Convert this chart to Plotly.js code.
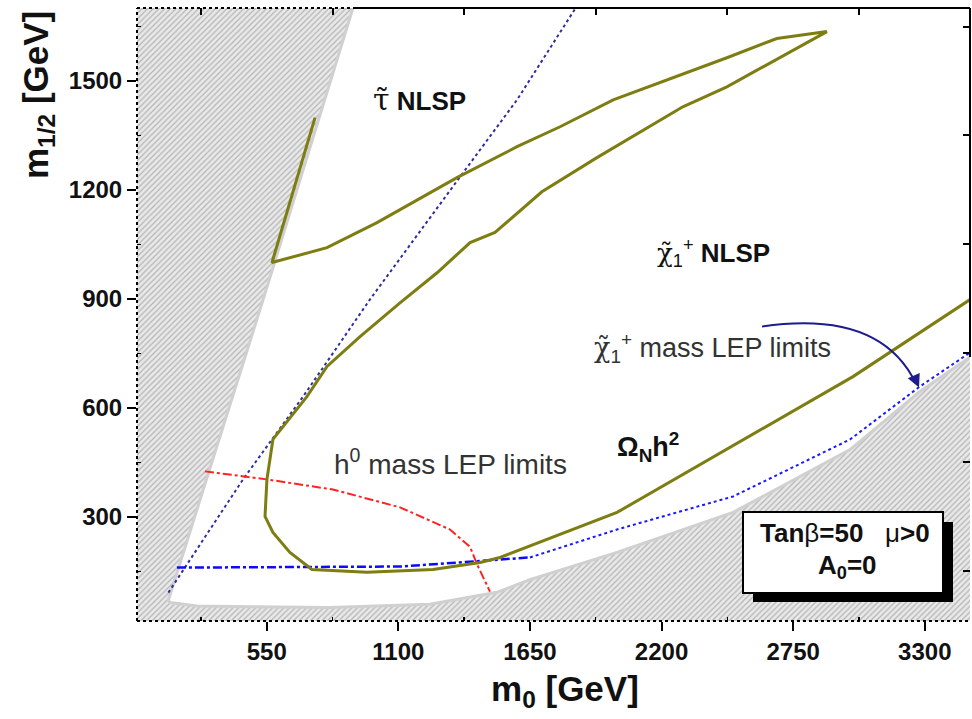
<!DOCTYPE html>
<html><head><meta charset="utf-8">
<script src="https://cdn.plot.ly/plotly-3.0.1.min.js"></script>
<style>html,body{margin:0;padding:0;background:#fff}#chart{width:972px;height:719px}</style>
</head><body><div id="chart"></div>
<script>
// Excluded (hatched) region boundary: m0, m1/2
const exclX = [-100, 960, 911, 535, 139, 146, 259, 814, 1232, 1512, 1650, 2014, 2499, 2988, 3280, 3489, 3600, 3600, -100];
const exclY = [1800, 1800, 1702, 898, 70, 64, 54, 50, 59, 92, 127, 202, 312, 485, 645, 739, 790, -50, -50];

// Omega_N h^2 contour
const omegaX = [752, 572, 802, 1011, 1345, 1596, 1776, 1998, 2473, 2682, 2891, 2473, 2289, 1930, 1700, 1504, 1400, 1262, 1107, 940, 802, 718, 576, 551, 543, 576, 647, 739, 969, 1245, 1442, 1525, 2014, 3000, 3489];
const omegaY = [1399, 1000, 1041, 1110, 1234, 1319, 1374, 1448, 1564, 1617, 1636, 1484, 1429, 1289, 1195, 1083, 1055, 972, 889, 796, 714, 631, 513, 403, 301, 257, 202, 155, 147, 155, 174, 188, 312, 686, 898];

// h0 mass LEP limit
const higgsX = [292, 550, 827, 1107, 1316, 1400, 1429, 1483];
const higgsY = [425, 403, 375, 326, 265, 217, 169, 94];

// chargino mass LEP limit
const charX = [175, 1107, 1650, 2014, 2499, 2988, 3280, 3489];
const charY = [160, 163, 188, 265, 356, 513, 659, 752];

// stau / chargino NLSP boundary
const nlspX = [139, 451, 702, 981, 1358, 1596, 1842];
const nlspY = [91, 403, 631, 898, 1236, 1448, 1702];

const xTicks = [550, 1100, 1650, 2200, 2750, 3300];
const yTicks = [300, 600, 900, 1200, 1500];
const xTopTicks = [275, 825, 1375, 1925, 2475, 3025];
const yRightTicks = [150, 450, 750, 1050, 1350, 1650];

const FONT = 'Liberation Sans, Arial, sans-serif';
const xRange = [8, 3489], yRange = [13, 1701];

const traces = [
  {x: exclX, y: exclY, type: 'scatter', mode: 'lines', fill: 'toself',
   fillcolor: '#e2e2e2',
   fillpattern: {shape: '/', bgcolor: '#e9e9e9', fgcolor: '#b4b4b4', size: 4, solidity: 0.3},
   line: {color: '#d0d0d0', width: 3}, hoverinfo: 'skip'},
  {x: nlspX, y: nlspY, type: 'scatter', mode: 'lines', line: {color: '#2e2ea0', width: 2, dash: 'dot'}},
  {x: higgsX, y: higgsY, type: 'scatter', mode: 'lines', line: {color: '#ff2222', width: 2, dash: 'dashdot'}},
  {x: charX.slice(0, 3), y: charY.slice(0, 3), type: 'scatter', mode: 'lines', line: {color: '#0a0aff', width: 2.5, dash: 'dashdot'}},
  {x: charX.slice(2), y: charY.slice(2), type: 'scatter', mode: 'lines', line: {color: '#1a1aff', width: 2, dash: 'dot'}},
  {x: omegaX, y: omegaY, type: 'scatter', mode: 'lines', line: {color: '#7d7d12', width: 3}},
  {x: [], y: [], xaxis: 'x2', yaxis: 'y', type: 'scatter'},
  {x: [], y: [], xaxis: 'x', yaxis: 'y2', type: 'scatter'}
];

const px2x = p => (p - 137) / 833;
const py2y = p => (621 - p) / 613;

const ann = [];
function lab(x, y, text, size, color, extra) {
  ann.push(Object.assign({x: x, y: y, xref: 'x', yref: 'y', text: text, showarrow: false,
    font: {family: FONT, size: size, color: color}, xanchor: 'center', yanchor: 'middle'}, extra || {}));
}
lab(1187, 1449, '<span style="font-family:DejaVu Serif;font-size:30px">τ̃</span> <b>NLSP</b>', 26, '#111');
lab(2419, 1027, '<span style="font-family:DejaVu Serif">χ̃</span><sub>1</sub><sup>+</sup> <b>NLSP</b>', 26, '#111');
lab(2411, 765, '<span style="font-family:DejaVu Serif">χ̃</span><sub>1</sub><sup>+</sup> mass LEP limits', 27, '#333');
lab(1316, 452, 'h<sup>0</sup> mass LEP limits', 28, '#333');
lab(2142, 493, '<b>Ω<sub>N</sub>h<sup>2</sup></b>', 27, '#111');

// box text
ann.push({xref: 'paper', yref: 'paper', x: px2x(845), y: py2y(533), text: '<b>Tan</b>β<b>=50</b>\u00a0\u00a0\u00a0μ<b>&gt;0</b>', showarrow: false,
  font: {family: FONT, size: 26, color: '#111'}, xanchor: 'center', yanchor: 'middle'});
ann.push({xref: 'paper', yref: 'paper', x: px2x(847), y: py2y(566), text: '<b>A<sub>0</sub>=0</b>', showarrow: false,
  font: {family: FONT, size: 26, color: '#111'}, xanchor: 'center', yanchor: 'middle'});

// axis titles
ann.push({xref: 'paper', yref: 'paper', x: px2x(38), y: py2y(95), text: '<b>m<sub>1/2</sub> [GeV]</b>', textangle: -90, showarrow: false,
  font: {family: FONT, size: 35, color: '#111'}, xanchor: 'center', yanchor: 'middle'});
ann.push({xref: 'paper', yref: 'paper', x: px2x(565), y: py2y(691), text: '<b>m<sub>0</sub> [GeV]</b>', showarrow: false,
  font: {family: FONT, size: 35, color: '#111'}, xanchor: 'center', yanchor: 'middle'});

// arrow head
ann.push({xref: 'x', yref: 'y', x: 3276, y: 656, ax: -4, ay: -9, text: '', showarrow: true,
  arrowhead: 2, arrowsize: 1.3, arrowwidth: 2, arrowcolor: '#1c1c8c', standoff: 0});

const shapes = [
  // frame
  {type: 'line', xref: 'paper', yref: 'paper', x0: 0, x1: 0, y0: 0, y1: 1, line: {color: '#000', width: 2, dash: 'dot'}, layer: 'above'},
  {type: 'line', xref: 'paper', yref: 'paper', x0: 0, x1: 1, y0: 0, y1: 0, line: {color: '#000', width: 2, dash: 'dot'}, layer: 'above'},
  {type: 'line', xref: 'paper', yref: 'paper', x0: 0, x1: px2x(354), y0: 1, y1: 1, line: {color: '#000', width: 2, dash: 'dot'}, layer: 'above'},
  {type: 'line', xref: 'paper', yref: 'paper', x0: px2x(354), x1: 1, y0: 1, y1: 1, line: {color: '#000', width: 2}, layer: 'above'},
  {type: 'line', xref: 'paper', yref: 'paper', x0: 1, x1: 1, y0: py2y(357), y1: 1, line: {color: '#000', width: 2}, layer: 'above'},
  // curved arrow
  {type: 'path', xref: 'x', yref: 'y', path: 'M 2620,824 Q 3113,871 3262,668', line: {color: '#1c1c8c', width: 2}, layer: 'above'},
  // parameter box with shadow
  {type: 'rect', xref: 'paper', yref: 'paper', x0: px2x(753), x1: px2x(953), y0: py2y(602), y1: py2y(522), fillcolor: '#000', line: {width: 0}, layer: 'above'},
  {type: 'rect', xref: 'paper', yref: 'paper', x0: px2x(743), x1: px2x(943), y0: py2y(593), y1: py2y(512), fillcolor: '#fff', line: {color: '#000', width: 2}, layer: 'above'}
];

const tickFont = {family: FONT, size: 24, color: '#111', weight: 'bold'};
const layout = {
  width: 972, height: 719,
  margin: {l: 137, r: 2, t: 8, b: 98},
  paper_bgcolor: '#fff', plot_bgcolor: '#fff',
  showlegend: false,
  xaxis: {range: xRange, tickmode: 'array', tickvals: xTicks, ticktext: xTicks.map(String),
    ticks: 'outside', ticklen: 9, tickwidth: 2, tickcolor: '#000', tickfont: tickFont,
    showline: false, showgrid: false, zeroline: false,
    minor: {tickmode: 'linear', tick0: 275, dtick: 550, ticks: 'inside', ticklen: 4, tickwidth: 1.5, tickcolor: '#000', showgrid: false}},
  yaxis: {range: yRange, tickmode: 'array', tickvals: yTicks, ticktext: yTicks.map(String),
    ticks: 'outside', ticklen: 9, tickwidth: 2, tickcolor: '#000', tickfont: tickFont,
    showline: false, showgrid: false, zeroline: false,
    minor: {tickmode: 'linear', tick0: 150, dtick: 300, ticks: 'inside', ticklen: 4, tickwidth: 1.5, tickcolor: '#000', showgrid: false}},
  xaxis2: {range: xRange, overlaying: 'x', side: 'top', anchor: 'y', tickmode: 'array', tickvals: xTopTicks,
    ticks: 'inside', ticklen: 7, tickwidth: 2, tickcolor: '#000', showticklabels: false,
    showline: false, showgrid: false, zeroline: false},
  yaxis2: {range: yRange, overlaying: 'y', side: 'right', anchor: 'x', tickmode: 'array', tickvals: yRightTicks,
    ticks: 'inside', ticklen: 7, tickwidth: 2, tickcolor: '#000', showticklabels: false,
    showline: false, showgrid: false, zeroline: false},
  annotations: ann,
  shapes: shapes
};

Plotly.newPlot('chart', traces, layout, {staticPlot: true, displayModeBar: false});
</script>
</body></html>
